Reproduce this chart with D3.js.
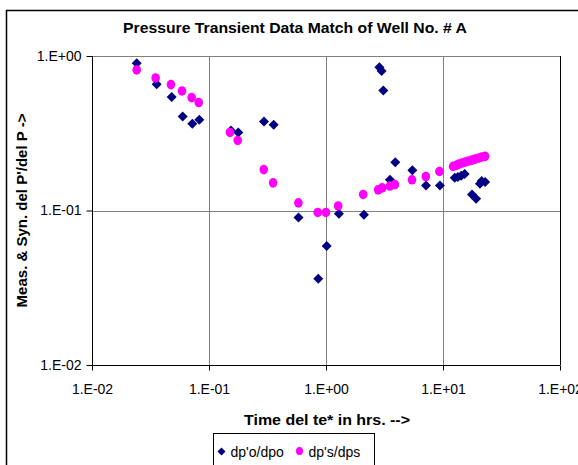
<!DOCTYPE html>
<html>
<head>
<meta charset="utf-8">
<script src="https://cdn.jsdelivr.net/npm/d3@7"></script>
<style>
  body { margin: 0; background: #fff; }
  svg { display: block; font-family: "Liberation Sans", Arial, sans-serif; }
</style>
</head>
<body>
<script>
/* globals d3 */

const width = 578;
const height = 465;

// measured series, dp'o/dpo (time in hrs, ratio)
const obsTime = [0.0241, 0.0357, 0.048, 0.0596, 0.072, 0.0826, 0.154, 0.178, 0.295, 0.357,
  0.582, 0.859, 1.014, 1.29, 2.11, 2.86, 2.99, 3.09, 3.52, 3.91, 5.47, 7.16, 9.42,
  12.6, 13.4, 14.3, 15.3, 17.7, 19.2, 20.7, 21.4, 22.9];
const obsRatio = [0.897, 0.657, 0.542, 0.406, 0.364, 0.386, 0.330, 0.320, 0.377, 0.359,
  0.0901, 0.0362, 0.0589, 0.0952, 0.0938, 0.846, 0.800, 0.597, 0.158, 0.205, 0.182, 0.145, 0.145,
  0.163, 0.165, 0.168, 0.172, 0.127, 0.119, 0.149, 0.155, 0.153];

// synthetic series, dp's/dps
const synTime = [0.0241, 0.035, 0.0473, 0.0588, 0.0711, 0.0817, 0.151, 0.176, 0.294, 0.353,
  0.581, 0.85, 0.999, 1.27, 2.08, 2.79, 3.02, 3.51, 3.88, 5.43, 7.13, 9.32,
  12.2, 13.0, 13.7, 14.6, 15.5, 16.5, 17.7, 18.8, 20.0, 21.4, 22.9];
const synRatio = [0.812, 0.721, 0.653, 0.594, 0.538, 0.500, 0.320, 0.284, 0.184, 0.151,
  0.112, 0.0971, 0.0971, 0.107, 0.127, 0.136, 0.140, 0.144, 0.147, 0.158, 0.166, 0.179,
  0.193, 0.196, 0.200, 0.203, 0.206, 0.209, 0.212, 0.215, 0.218, 0.222, 0.224];

const xTicks = [0.01, 0.1, 1, 10, 100];
const yTicks = [0.01, 0.1, 1];
const seriesNames = ["dp'o/dpo", "dp's/dps"];

const navy = "#000080";
const pink = "#ff00ff";

const marginLeft = 92, marginRight = 18, marginTop = 56, marginBottom = 100;

const x = d3.scaleLog([0.01, 100], [marginLeft, width - marginRight]);
const y = d3.scaleLog([0.01, 1], [height - marginBottom, marginTop]);
const fmt = d => "1.E" + (Math.log10(d) < 0 ? "-" : "+") + String(Math.abs(Math.round(Math.log10(d)))).padStart(2, "0");

// square diamond (equal width and height)
const diamondPath = r => `M0,${-r}L${r},0L0,${r}L${-r},0Z`;

const svg = d3.create("svg")
    .attr("width", width)
    .attr("height", height)
    .attr("viewBox", [0, 0, width, height]);

// chart area border (runs past the window on right and bottom)
svg.append("rect")
    .attr("x", 6.5).attr("y", 10.5)
    .attr("width", width + 10).attr("height", height + 10)
    .attr("fill", "#fff").attr("stroke", "#000").attr("stroke-width", 1.5);

svg.append("text")
    .attr("x", 295).attr("y", 33)
    .attr("text-anchor", "middle")
    .attr("font-size", 15).attr("font-weight", "bold")
    .attr("textLength", 344).attr("lengthAdjust", "spacingAndGlyphs")
    .text("Pressure Transient Data Match of Well No. # A");

// gridlines
svg.append("g")
    .attr("stroke", "#808080")
    .call(g => g.selectAll("line.v").data(xTicks.slice(1, -1)).join("line")
        .attr("x1", d => Math.round(x(d)) + 0.5).attr("x2", d => Math.round(x(d)) + 0.5)
        .attr("y1", y(1)).attr("y2", y(0.01)))
    .call(g => g.selectAll("line.h").data(yTicks.slice(1)).join("line")
        .attr("y1", d => Math.round(y(d)) + 0.5).attr("y2", d => Math.round(y(d)) + 0.5)
        .attr("x1", x(0.01)).attr("x2", x(100)));

svg.append("line")
    .attr("x1", Math.round(x(100)) + 0.5).attr("x2", Math.round(x(100)) + 0.5)
    .attr("y1", y(1)).attr("y2", y(0.01))
    .attr("stroke", "#000");

// axes
svg.append("g")
    .attr("transform", `translate(0,${Math.round(y(0.01)) + 0.5})`)
    .call(d3.axisBottom(x).tickValues(xTicks).tickFormat(fmt).tickSize(5).tickPadding(14))
    .call(g => g.select(".domain").attr("d", `M${x(0.01)},0H${x(100)}`))
    .call(g => g.selectAll("text").attr("font-size", 14).attr("font-family", null).attr("fill", "#000"));

svg.append("g")
    .attr("transform", `translate(${Math.round(x(0.01)) + 0.5},0)`)
    .call(d3.axisLeft(y).tickValues(yTicks).tickFormat(fmt).tickSize(6).tickPadding(5))
    .call(g => g.select(".domain").attr("d", `M0,${y(1)}V${y(0.01)}`))
    .call(g => g.selectAll("text").attr("font-size", 14).attr("font-family", null).attr("fill", "#000"));

svg.append("text")
    .attr("x", 327).attr("y", 425)
    .attr("text-anchor", "middle")
    .attr("font-size", 15).attr("font-weight", "bold")
    .attr("textLength", 166).attr("lengthAdjust", "spacingAndGlyphs")
    .text("Time del te* in hrs. -->");

svg.append("text")
    .attr("transform", `translate(27,${(y(1) + y(0.01)) / 2}) rotate(-90)`)
    .attr("text-anchor", "middle")
    .attr("font-size", 15).attr("font-weight", "bold")
    .text("Meas. & Syn. del P'/del P ->");

svg.append("g")
    .attr("fill", navy)
  .selectAll("path")
  .data(d3.range(obsTime.length))
  .join("path")
    .attr("transform", i => `translate(${x(obsTime[i])},${y(obsRatio[i])})`)
    .attr("d", diamondPath(5));

svg.append("g")
    .attr("fill", pink)
  .selectAll("ellipse")
  .data(d3.range(synTime.length))
  .join("ellipse")
    .attr("cx", i => x(synTime[i]))
    .attr("cy", i => y(synRatio[i]))
    .attr("rx", 4.3).attr("ry", 4.8);

// legend
const legend = svg.append("g").attr("transform", "translate(213.5,433.5)");
legend.append("rect")
    .attr("width", 161).attr("height", 40)
    .attr("fill", "#fff").attr("stroke", "#000");
legend.append("path")
    .attr("transform", "translate(8,18)")
    .attr("d", diamondPath(4))
    .attr("fill", navy);
legend.append("text")
    .attr("x", 17).attr("y", 23)
    .attr("font-size", 14)
    .text(seriesNames[0]);
legend.append("ellipse")
    .attr("cx", 86).attr("cy", 17.5).attr("rx", 3.5).attr("ry", 4)
    .attr("fill", pink);
legend.append("text")
    .attr("x", 95).attr("y", 23)
    .attr("font-size", 14)
    .text(seriesNames[1]);

document.body.appendChild(svg.node());
</script>
</body>
</html>
